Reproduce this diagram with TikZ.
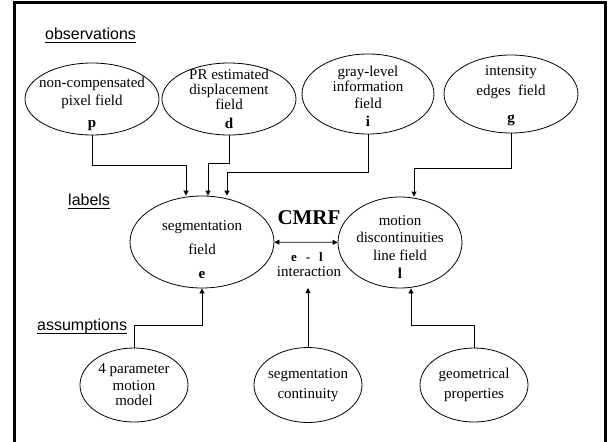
\documentclass[tikz,border=0pt]{standalone}
\usepackage{fontspec}
\setmainfont{Liberation Serif}
\newfontfamily\headfont{Liberation Sans}
\usetikzlibrary{shapes.geometric,arrows.meta}

\begin{document}
\begin{tikzpicture}[x=1pt,y=-1pt,
  field/.style={draw,ellipse,line width=0.8pt,inner xsep=-15pt,inner ysep=-12pt,
    align=center,font=\fontsize{15}{18}\selectfont},
  head/.style={anchor=base west,inner sep=0pt,font=\headfont\fontsize{16}{19}\selectfont},
  arr/.style={-{Triangle[length=5pt,width=5pt]},line width=0.8pt}]
  \useasboundingbox (0,0) rectangle (611,442);
  \draw[line width=3pt] (14,446) -- (14,2.5) -- (605.5,2.5) -- (605.5,446);

  % headings
  \node[head] (obs) at (45,39.5) {observations};
  \node[head] (lab) at (68,205.5) {labels};
  \node[head] (ass) at (37,330.5) {assumptions};
  \draw[line width=0.8pt] ([yshift=-2.5pt]obs.base west) -- ([yshift=-2.5pt]obs.base east);
  \draw[line width=0.8pt] ([yshift=-2.5pt]lab.base west) -- ([yshift=-2.5pt]lab.base east);
  \draw[line width=0.8pt] ([yshift=-2.5pt]ass.base west) -- ([yshift=-2.5pt]ass.base east);

  % observations
  \node[field,minimum width=134,minimum height=72] (p) at (92,99)
    {\rule{0pt}{20pt}non-compensated\\pixel field\\[4pt]\textbf{p}};
  \node[field,minimum width=134,minimum height=72] (d) at (229,99)
    {PR estimated\\[-3pt]displacement\\[-3pt]field\\[1pt]\textbf{d}};
  \node[field,minimum width=132,minimum height=80] (i) at (368,94)
    {\rule{0pt}{14.5pt}gray-level\\[-3pt]information\\[-1pt]field\\\textbf{i}};
  \node[field,minimum width=134,minimum height=78] (g) at (511,94)
    {\rule{0pt}{14pt}intensity\\[2pt]edges\ \ field\\[9pt]\textbf{g}};

  % labels
  \node[field,minimum width=144,minimum height=92] (e) at (202,242)
    {\rule{0pt}{26pt}segmentation\\[6pt]field\\[6pt]\textbf{e}};
  \node[field,minimum width=124,minimum height=91] (l) at (400,242.5)
    {\rule{0pt}{18pt}motion\\[-1pt]discontinuities\\line field\\\textbf{l}};
  \node[font=\bfseries\fontsize{21}{24}\selectfont] (cmrf) at (309,218) {CMRF};
  \node[font=\bfseries\fontsize{13}{15}\selectfont] (el) at (307,257) {e\hspace{9pt}-\hspace{9pt}l};
  \node[font=\fontsize{15}{18}\selectfont] (inter) at (309,272) {interaction};

  % assumptions
  \node[field,minimum width=108,minimum height=74] (mm) at (134,385)
    {4 parameter\\[-1pt]motion\\[-3pt]model};
  \node[field,minimum width=108,minimum height=75] (sc) at (308,385)
    {segmentation\\[2pt]continuity};
  \node[field,minimum width=108,minimum height=74] (gp) at (474,385)
    {geometrical\\[2pt]properties};

  % connectors
  \coordinate (pe) at (186,165);
  \coordinate (de) at (208,163);
  \coordinate (ie) at (227,172);
  \coordinate (gl) at (414,168);
  \coordinate (me) at (202,325);
  \coordinate (ct) at (308,288);
  \coordinate (gpl) at (411,325);

  \draw[arr] (p.south) |- (pe) -- (pe |- e.north);
  \draw[arr] (d.south) |- (de) -- (de |- e.north);
  \draw[arr] (i.south) |- (ie) -- (ie |- e.north);
  \draw[arr] (g.south) |- (gl) -- (gl |- l.north);
  \draw[arr,{Triangle[length=5pt,width=5pt]}-{Triangle[length=5pt,width=5pt]}] (e) -- (l);
  \draw[arr] (mm.north) |- (me) -- (e.south);
  \draw[arr] (sc.north) -- (ct);
  \draw[arr] (gp.north) |- (gpl) -- (gpl |- l.south);
\end{tikzpicture}
\end{document}
